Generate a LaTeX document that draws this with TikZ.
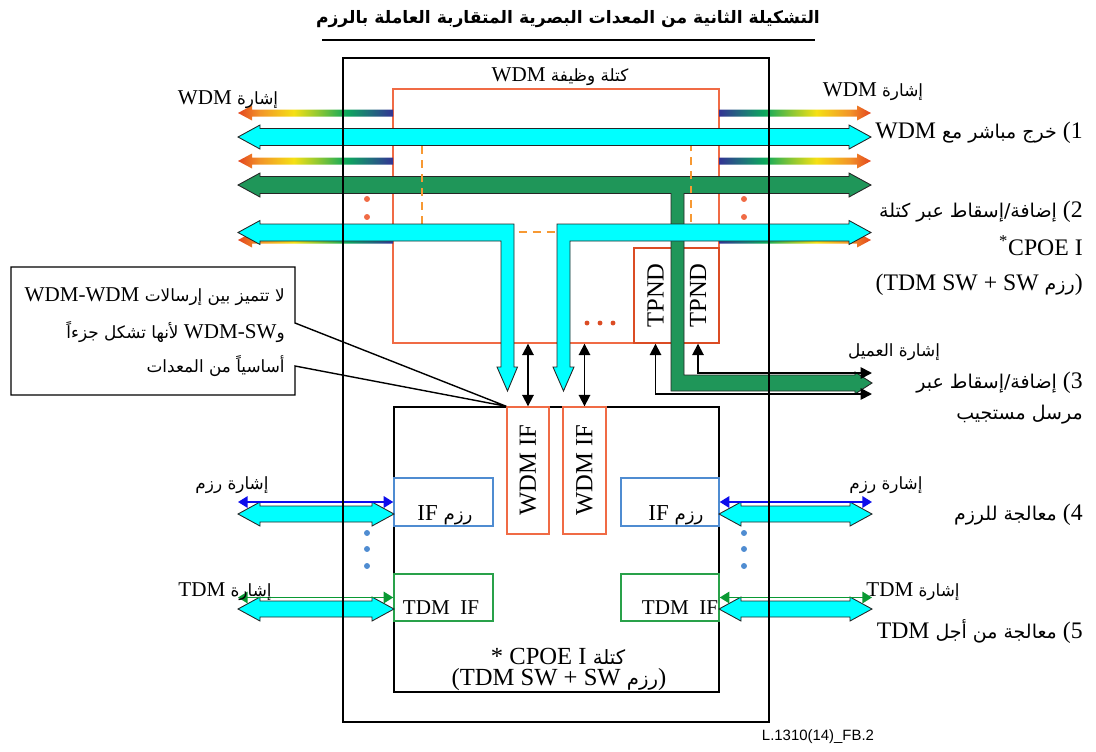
\documentclass[tikz,border=0pt]{standalone}
\usepackage{fontspec}
\setmainfont{Liberation Serif}
\setsansfont{Liberation Sans}
\newfontfamily\arabicfont[Script=Arabic,Scale=0.8]{DejaVu Sans}
\TeXXeTstate=1
\usetikzlibrary{arrows.meta,calc}
\definecolor{WdmClr}{rgb}{0.94,0.42,0.27}
\definecolor{TpndClr}{rgb}{0.86,0.3,0.14}
\definecolor{DashClr}{rgb}{0.97,0.6,0.2}
\definecolor{PktClr}{rgb}{0.31,0.55,0.82}
\definecolor{TdmClr}{rgb}{0.16,0.63,0.29}
\definecolor{CyanClr}{rgb}{0,1,1}
\definecolor{TrunkClr}{rgb}{0.12,0.59,0.35}
\definecolor{PktSigClr}{rgb}{0.05,0.05,0.92}
\definecolor{TdmSigClr}{rgb}{0.04,0.6,0.2}
\definecolor{SigA}{rgb}{0.89,0.27,0.12}
\definecolor{SigB}{rgb}{0.95,0.58,0.16}
\definecolor{SigC}{rgb}{0.96,0.88,0.08}
\definecolor{SigD}{rgb}{0.55,0.78,0.2}
\definecolor{SigE}{rgb}{0.05,0.66,0.36}
\definecolor{SigF}{rgb}{0.12,0.45,0.48}
\definecolor{SigG}{rgb}{0.2,0.2,0.58}
\pgfdeclarehorizontalshading{sigwest}{100bp}{color(0bp)=(SigA); color(25bp)=(SigA); color(32bp)=(SigB); color(43bp)=(SigC); color(51bp)=(SigD); color(60bp)=(SigE); color(67bp)=(SigF); color(75bp)=(SigG); color(100bp)=(SigG)}
\pgfdeclarehorizontalshading{sigeast}{100bp}{color(0bp)=(SigG); color(25bp)=(SigG); color(33bp)=(SigF); color(40bp)=(SigE); color(49bp)=(SigD); color(57bp)=(SigC); color(68bp)=(SigB); color(75bp)=(SigA); color(100bp)=(SigA)}
\newcommand{\artxt}[1]{{\arabicfont\beginR #1\endR}}
\newcommand{\lttxt}[1]{{\rmfamily\beginL #1\endL}}

\begin{document}
\begin{tikzpicture}[x=0.02cm,y=-0.02cm,
  lbl/.style={inner sep=0pt,font=\fontsize{12}{14}\selectfont},
  rlbl/.style={inner sep=0pt,anchor=east,font=\fontsize{13.5}{16}\selectfont},
  boxlbl/.style={inner sep=0pt,font=\fontsize{14}{16}\selectfont},
  ifbox/.style={draw=#1,line width=0.8pt,inner sep=0pt,font=\fontsize{14}{16}\selectfont},
  blockarrow/.style={fill=#1,draw=black!85,line width=0.5pt,line join=miter},
  blkarrow/.style={line width=1pt,{Triangle[length=6.5pt,width=6.5pt]}-{Triangle[length=6.5pt,width=6.5pt]}},
  sigarrow/.style={draw=#1,line width=1.1pt,{Triangle[length=5.5pt,width=6.5pt]}-{Triangle[length=5.5pt,width=6.5pt]}},
  dashline/.style={draw=DashClr,line width=1pt,dash pattern=on 4.5pt off 3.5pt}]
\useasboundingbox (0,0) rectangle (1096,751);

% title
\node[font={\arabicfont\bfseries\fontsize{12.2}{15}\selectfont}] (title) at (568,19) {\beginR التشكيلة الثانية من المعدات البصرية المتقاربة العاملة بالرزم\endR};
\draw[line width=1.2pt] (322,40) -- (815,40);

% WDM function block
\node[draw=WdmClr,fill=white,line width=0.8pt,minimum width=6.52cm,minimum height=5.08cm] (wdmblk) at (556,216) {};
\node[lbl] (wdmlbl) at (560,77) {\artxt{كتلة وظيفة \lttxt{WDM}}};
\node[ifbox=TpndClr,minimum width=0.86cm,minimum height=1.9cm] (tpndA) at (655.5,295.5) {\rotatebox{90}{TPND}};
\node[ifbox=TpndClr,minimum width=0.84cm,minimum height=1.9cm] (tpndB) at (698,295.5) {\rotatebox{90}{TPND}};
\foreach \x in {587,600,613} \fill[TpndClr] (\x,323) circle (1.4pt);

% WDM signals
\foreach \y in {113,161,240} {
  \shade[shading=sigwest] (238,\y) -- (252,\y-7.5) -- (252,\y-3.5) -- (393,\y-3.5) -- (393,\y+3.5) -- (252,\y+3.5) -- (252,\y+7.5) -- cycle;
  \shade[shading=sigeast] (719,\y-3.5) -- (857,\y-3.5) -- (857,\y-7.5) -- (871,\y) -- (857,\y+7.5) -- (857,\y+3.5) -- (719,\y+3.5) -- cycle;
}

% direct WDM output and trunk
\draw[blockarrow=CyanClr] (238,137) -- (260,125) -- (260,128.5) -- (849,128.5) -- (849,125) -- (871,137) -- (849,149) -- (849,145.5) -- (260,145.5) -- (260,149) -- cycle;
\draw[blockarrow=TrunkClr] (238,185) -- (260,173) -- (260,176.5) -- (849,176.5) -- (849,173) -- (871,185) -- (849,197) -- (849,193.5) -- (684,193.5) -- (684,375) -- (855,375) -- (855,372) -- (872,383) -- (855,394) -- (855,391) -- (671,391) -- (671,193.5) -- (260,193.5) -- (260,197) -- cycle;
\draw[dashline] (422,146) -- (422,232) -- (691,232) -- (691,146);
\draw[blockarrow=CyanClr] (238,232.5) -- (260,220.5) -- (260,224) -- (514,224) -- (514,367) -- (517.5,367) -- (507.5,391) -- (497,367) -- (501,367) -- (501,241) -- (260,241) -- (260,244.5) -- cycle;
\draw[blockarrow=CyanClr] (557,224) -- (849,224) -- (849,220.5) -- (871,232.5) -- (849,244.5) -- (849,241) -- (570,241) -- (570,367) -- (574,367) -- (563.5,391) -- (553,367) -- (557,367) -- cycle;
\foreach \y in {199,217} {
  \fill[WdmClr] (367,\y) circle (1.7pt);
  \fill[WdmClr] (744,\y) circle (1.7pt);
}

% CPOE I block
\node[draw,line width=1pt,minimum width=6.5cm,minimum height=5.7cm] (cpoe) at (556.5,549.5) {};
\node[ifbox=WdmClr,minimum width=0.84cm,minimum height=2.54cm] (wdmifA) at (528,470.5) {\rotatebox{90}{WDM IF}};
\node[ifbox=WdmClr,minimum width=0.86cm,minimum height=2.54cm] (wdmifB) at (584.5,470.5) {\rotatebox{90}{WDM IF}};
\node[ifbox=PktClr,minimum width=1.98cm,minimum height=0.96cm] (pktL) at (443.5,502) {};
\node[ifbox=PktClr,minimum width=1.96cm,minimum height=0.96cm] (pktR) at (670,502) {};
\node[ifbox=TdmClr,minimum width=1.98cm,minimum height=0.94cm] (tdmL) at (443.5,597.5) {};
\node[ifbox=TdmClr,minimum width=1.96cm,minimum height=0.94cm] (tdmR) at (670,597.5) {};
\node[lbl,font=\fontsize{13}{15}\selectfont] (pktLlbl) at (445,515) {\artxt{رزم \lttxt{IF}}};
\node[lbl,font=\fontsize{13}{15}\selectfont] (pktRlbl) at (676,515) {\artxt{رزم \lttxt{IF}}};
\node[lbl] (tdmLlbl) at (441,608) {TDM\enspace IF};
\node[lbl] (tdmRlbl) at (680,608) {TDM\enspace IF};
\node[boxlbl] (cpoelbl) at (558,656) {\artxt{كتلة \lttxt{CPOE I} \lttxt{*}}};
\node[boxlbl] (cpoesw) at (559,680) {\artxt{\lttxt{)}رزم \lttxt{TDM SW + SW}\lttxt{(}}};

% links between the blocks
\draw[blkarrow] (wdmifA.north) -- (wdmifA.north |- wdmblk.south);
\draw[blkarrow] (wdmifB.north) -- (wdmifB.north |- wdmblk.south);
\coordinate (cliA) at (872,394);
\coordinate (cliB) at (872,373);
\draw[blkarrow] (tpndA.south) |- (cliA);
\draw[blkarrow] (tpndB.south) |- (cliB);

% packet and TDM ports
\foreach \a/\b/\y in {238/394/514,719/872/514,238/394/609,719/872/609}
  \draw[blockarrow=CyanClr] (\a,\y) -- (\a+22,\y-12) -- (\a+22,\y-8) -- (\b-22,\y-8) -- (\b-22,\y-12) -- (\b,\y) -- (\b-22,\y+12) -- (\b-22,\y+8) -- (\a+22,\y+8) -- (\a+22,\y+12) -- cycle;
\coordinate (pktsigW) at (238,502);
\coordinate (pktsigE) at (872,502);
\coordinate (tdmsigW) at (238,597.5);
\coordinate (tdmsigE) at (872,597.5);
\draw[sigarrow=PktSigClr] (pktsigW) -- (pktL.west);
\draw[sigarrow=PktSigClr] (pktR.east) -- (pktsigE);
\draw[sigarrow=TdmSigClr] (tdmsigW) -- (tdmL.west);
\draw[sigarrow=TdmSigClr] (tdmR.east) -- (tdmsigE);
\foreach \y in {533,549,566} {
  \fill[PktClr] (367,\y) circle (1.7pt);
  \fill[PktClr] (744,\y) circle (1.7pt);
}

% note
\draw[line width=0.8pt] (295,323) -- (295,267) -- (11,267) -- (11,395) -- (295,395) -- (295,366) -- (wdmifA.north west) -- cycle;
\node[lbl,anchor=east] (noteA) at (285,297) {\artxt{لا تتميز بين إرسالات \lttxt{WDM-WDM}}};
\node[lbl,anchor=east] (noteB) at (285,332) {\artxt{و\lttxt{WDM-SW} لأنها تشكل جزءاً}};
\node[lbl,anchor=east] (noteC) at (285,366) {\artxt{أساسياً من المعدات}};

% signal labels
\node[lbl] (wdmsigW) at (228,100) {\artxt{إشارة \lttxt{WDM}}};
\node[lbl] (wdmsigE) at (873,92) {\artxt{إشارة \lttxt{WDM}}};
\node[lbl] (clilbl) at (894,352) {\artxt{إشارة العميل}};
\node[lbl] (pktsigWlbl) at (232,485) {\artxt{إشارة رزم}};
\node[lbl] (pktsigElbl) at (886,485) {\artxt{إشارة رزم}};
\node[lbl] (tdmsigWlbl) at (225,592) {\artxt{إشارة \lttxt{TDM}}};
\node[lbl] (tdmsigElbl) at (913,592) {\artxt{إشارة \lttxt{TDM}}};

% right column
\node[rlbl] (lab1) at (1083,133) {\artxt{\lttxt{(1} خرج مباشر مع \lttxt{WDM}}};
\node[rlbl] (lab2) at (1083,212) {\artxt{\lttxt{(2} إضافة\kern0pt/\kern0pt إسقاط عبر كتلة}};
\node[rlbl] (lab2b) at (1083,246) {\textsuperscript{*}CPOE I};
\node[rlbl] (lab2c) at (1083,285) {\artxt{\lttxt{)}رزم \lttxt{TDM SW + SW}\lttxt{(}}};
\node[rlbl] (lab3) at (1083,383) {\artxt{\lttxt{(3} إضافة\kern0pt/\kern0pt إسقاط عبر}};
\node[rlbl] (lab3b) at (1083,415) {\artxt{مرسل مستجيب}};
\node[rlbl] (lab4) at (1083,515) {\artxt{\lttxt{(4} معالجة للرزم}};
\node[rlbl] (lab5) at (1083,632) {\artxt{\lttxt{(5} معالجة من أجل \lttxt{TDM}}};

\node[inner sep=0pt,font=\sffamily\fontsize{8.5}{10}\selectfont] (figid) at (818,737) {L.1310(14)\_FB.2};

% equipment frame
\node[draw,line width=0.8pt,minimum width=8.52cm,minimum height=13.28cm] (outer) at (556,390) {};
\end{tikzpicture}
\end{document}
